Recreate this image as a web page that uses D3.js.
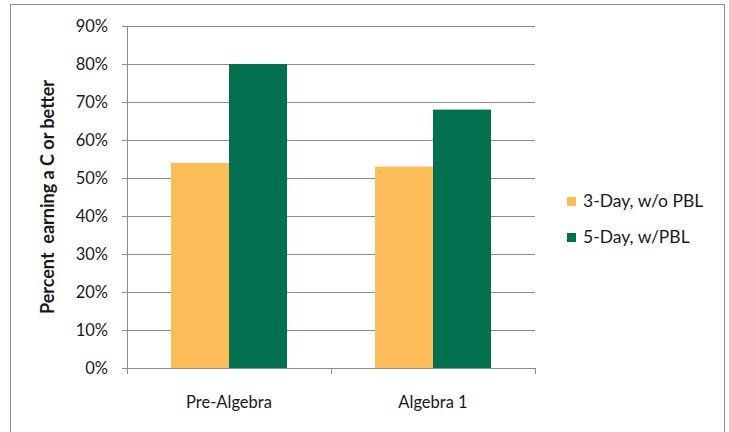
<!DOCTYPE html>
<html>
<head>
<meta charset="utf-8">
<script src="https://cdn.jsdelivr.net/npm/d3@7"></script>
<style>
  body { margin: 0; background: #fff; }
  text { font-family: Lato, "Open Sans", sans-serif; fill: #1a1a1a; }
</style>
</head>
<body>
<svg id="chart" width="729" height="432"></svg>
<script>
var categories = ["Pre-Algebra", "Algebra 1"];
var series_names = ["3-Day, w/o PBL", "5-Day, w/PBL"];
var series_colors = ["#FDBE5A", "#00704F"];
var vals_3day = [54, 53];
var vals_5day = [80, 68];
var y_ticks = [0, 10, 20, 30, 40, 50, 60, 70, 80, 90];

var svg = d3.select("#chart");
var margin = {left: 127, top: 26, right: 194, bottom: 64};
var w = 729 - margin.left - margin.right,
    h = 432 - margin.top - margin.bottom;

// outer frame
svg.append("rect")
    .attr("x", 10.5).attr("y", 4.5)
    .attr("width", 714).attr("height", 440)
    .attr("fill", "none").attr("stroke", "#8c8c8c");

var g = svg.append("g").attr("transform", "translate(" + margin.left + "," + margin.top + ")");

var x0 = d3.scaleBand().domain(categories).range([0, w]).paddingInner(0).paddingOuter(0);
var x1 = d3.scaleBand().domain(series_names).range([44, x0.bandwidth() - 44]);
var y = d3.scaleLinear().domain([0, 90]).range([h, 0]);

// gridlines
g.selectAll(".grid").data(y_ticks.slice(1)).enter().append("line")
    .attr("x1", -5).attr("x2", w)
    .attr("y1", d => Math.round(y(d)) + 0.5).attr("y2", d => Math.round(y(d)) + 0.5)
    .attr("stroke", "#8c8c8c");

// bars
var data = categories.map((c, i) => ({cat: c, v: [vals_3day[i], vals_5day[i]]}));
var grp = g.selectAll(".cat").data(data).enter().append("g")
    .attr("transform", d => "translate(" + x0(d.cat) + ",0)");
grp.selectAll("rect").data(d => d.v.map((v, j) => ({s: series_names[j], v: v, c: series_colors[j]})))
    .enter().append("rect")
    .attr("x", d => x1(d.s)).attr("width", x1.bandwidth())
    .attr("y", d => y(d.v)).attr("height", d => h - y(d.v))
    .attr("fill", d => d.c);

// y axis
var yAx = g.append("g")
    .call(d3.axisLeft(y).tickValues(y_ticks).tickSize(5).tickFormat(d => d + "%"));
yAx.select(".domain").attr("stroke", "#8c8c8c").attr("d", "M0.5," + h + "V0");
yAx.selectAll(".tick line").attr("stroke", "#8c8c8c");
yAx.selectAll(".tick text").attr("x", -19).attr("font-size", "16.5px").attr("font-family", "Lato, sans-serif").attr("fill", "#1a1a1a");

// x axis
var xAx = g.append("g").attr("transform", "translate(0," + h + ")");
xAx.append("line").attr("x1", -5).attr("x2", w).attr("y1", 0.5).attr("y2", 0.5).attr("stroke", "#8c8c8c");
var bounds = [0].concat(categories.map(c => x0(c) + x0.bandwidth()));
xAx.selectAll(".xt").data(bounds).enter().append("line")
    .attr("x1", d => Math.round(d) + 0.5).attr("x2", d => Math.round(d) + 0.5)
    .attr("y1", 0).attr("y2", 6).attr("stroke", "#8c8c8c");
xAx.selectAll(".xl").data(categories).enter().append("text")
    .attr("x", d => x0(d) + x0.bandwidth() / 2).attr("y", 40)
    .attr("text-anchor", "middle").attr("font-size", "16.5px")
    .text(d => d);

// y label
svg.append("text")
    .attr("transform", "translate(54," + (margin.top + h / 2) + ") rotate(-90)")
    .attr("text-anchor", "middle").attr("font-size", "18px").attr("font-weight", "bold")
    .attr("xml:space", "preserve")
    .text("Percent  earning a C or better");

// legend
var leg = svg.selectAll(".leg").data(series_names).enter().append("g")
    .attr("transform", (d, i) => "translate(567," + (197 + i * 36) + ")");
leg.append("rect").attr("width", 9).attr("height", 9).attr("fill", (d, i) => series_colors[i]);
leg.append("text").attr("x", 16).attr("y", 10).attr("font-size", "17.5px").text(d => d);
</script>
</body>
</html>
